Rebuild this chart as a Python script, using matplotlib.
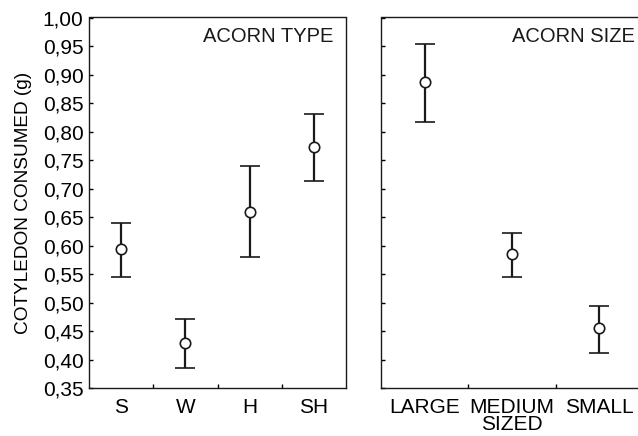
import numpy as np
import matplotlib.pyplot as plt
from matplotlib.ticker import FuncFormatter, FixedLocator

plt.rcParams['font.family'] = ['Liberation Sans', 'DejaVu Sans']

# acorn type panel
type_labels = ['S', 'W', 'H', 'SH']
type_mean = [0.594, 0.429, 0.659, 0.772]
type_low = [0.545, 0.385, 0.579, 0.713]
type_high = [0.640, 0.471, 0.740, 0.831]

# acorn size panel
size_labels = ['LARGE', 'MEDIUM\nSIZED', 'SMALL']
size_mean = [0.886, 0.585, 0.455]
size_low = [0.816, 0.544, 0.411]
size_high = [0.954, 0.622, 0.493]

yticks = np.arange(0.35, 1.001, 0.05)

fig = plt.figure(figsize=(6.38, 4.36), dpi=100)
ax1 = fig.add_axes([89/638, 48/436, 257/638, 370.5/436])
ax2 = fig.add_axes([381/638, 48/436, 262/638, 370.5/436])


def draw(ax, labels, mean, low, high, title, tx):
    x = np.arange(len(labels))
    mean = np.array(mean)
    err = [mean - np.array(low), np.array(high) - mean]
    ax.errorbar(x, mean, yerr=err, fmt='o', color='#1a1a1a', mfc='white',
                mec='#1a1a1a', ms=7.5, mew=1.2, elinewidth=1.6, capsize=7.5,
                capthick=1.6)
    ax.set_xlim(-0.5, len(labels) - 0.5)
    ax.set_ylim(0.35, 1.00)
    ax.set_xticks(x)
    ax.set_xticklabels(labels, fontsize=15, linespacing=0.88)
    ax.xaxis.set_minor_locator(FixedLocator(np.arange(0.5, len(labels) - 0.5, 1)))
    ax.tick_params(axis='x', which='major', length=0, pad=7)
    ax.tick_params(axis='x', which='minor', direction='in', length=3, width=1)
    ax.set_yticks(yticks)
    ax.tick_params(axis='y', direction='in', length=3, width=1, labelsize=15, pad=4)
    for s in ax.spines.values():
        s.set_linewidth(1.0)
        s.set_color('#1a1a1a')
    ax.text(tx, 0.948, title, transform=ax.transAxes, ha='right', va='center',
            fontsize=14.5, color='#1a1a1a')


draw(ax1, type_labels, type_mean, type_low, type_high, 'ACORN TYPE', 0.950)
draw(ax2, size_labels, size_mean, size_low, size_high, 'ACORN SIZE', 0.968)

ax1.yaxis.set_major_formatter(FuncFormatter(lambda v, p: f'{v:.2f}'.replace('.', ',')))
ax2.tick_params(axis='y', labelleft=False)
ax1.set_ylabel('COTYLEDON CONSUMED (g)', fontsize=13.7, labelpad=8)

fig.savefig('out.png', dpi=100)
